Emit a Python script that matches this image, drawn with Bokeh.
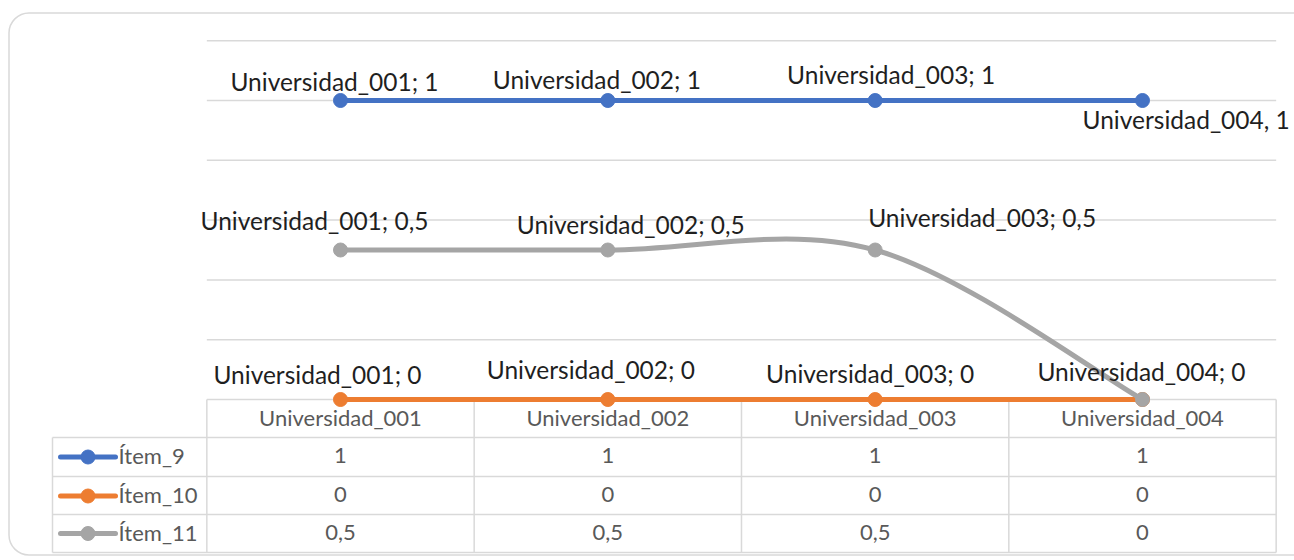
import numpy as np
from bokeh.plotting import figure
from bokeh.models import ColumnDataSource, Range1d
from bokeh.core.properties import value
from bokeh.embed import file_html
from bokeh.resources import INLINE

# ---------------- data ----------------
categories = ["Universidad_001", "Universidad_002", "Universidad_003", "Universidad_004"]
series_names = ["Ítem_9", "Ítem_10", "Ítem_11"]
item_9 = [1, 1, 1, 1]
item_10 = [0, 0, 0, 0]
item_11 = [0.5, 0.5, 0.5, 0]
y_ticks = [0, 0.2, 0.4, 0.6, 0.8, 1.0, 1.2]
# data-label separators and visibility (as shown in the chart)
item_9_sep = ["; ", "; ", "; ", ", "]
item_10_sep = ["; ", "; ", "; ", "; "]
item_11_sep = ["; ", "; ", "; ", "; "]
item_11_show = [True, True, True, False]

# ---------------- styles ----------------
colors = ["#4472C4", "#ED7D31", "#A5A5A5"]
FONT = value("Lato")
GRID = "#D9D9D9"
TXT = "#1F1F1F"
TBL_TXT = "#595959"
LW = 5

# pixel geometry of the frame (page px)
PX_X0, PX_DX = 340.0, 267.33   # px of first category, px per category
PX_Y0, PX_DY = 399.0, 299.0    # px of value 0, px per unit
FIG_W, FIG_H = 1294, 558
T_SHIFT = 8.0                   # baseline correction for text (px, upward)


def X(px):
    return (px - PX_X0) / PX_DX


def Y(py):
    return (PX_Y0 - py) / PX_DY


def TY(py):
    return Y(py - T_SHIFT)


def fmt(v):
    s = ("%g" % v)
    return s.replace(".", ",")


p = figure(width=FIG_W, height=FIG_H,
           x_range=Range1d(X(0), X(FIG_W)), y_range=Range1d(Y(FIG_H), Y(0)),
           output_backend="svg", toolbar_location=None,
           x_axis_type=None, y_axis_type=None, min_border=0,
           outline_line_color=None)
p.background_fill_color = "white"
p.border_fill_color = "white"

n = len(categories)
xs = np.arange(n, dtype=float)
x_lo, x_hi = -0.5, n - 0.5

# ---------------- outer rounded border ----------------
R = 20
bx, by_top, by_bot = 8.5, 12.5, 554.5
p.segment(x0=[X(bx + R), X(bx)], y0=[Y(by_top), Y(by_top + R)],
          x1=[X(1310), X(bx)], y1=[Y(by_top), Y(by_bot - R)],
          line_color=GRID, line_width=1.5)
p.segment(x0=[X(bx + R)], y0=[Y(by_bot)], x1=[X(1310)], y1=[Y(by_bot)],
          line_color=GRID, line_width=1.5)
p.arc(x=[X(bx + R), X(bx + R)], y=[Y(by_top + R), Y(by_bot - R)], radius=R,
      radius_units="screen", start_angle=[np.pi / 2, np.pi],
      end_angle=[np.pi, 1.5 * np.pi], line_color=GRID, line_width=1.5)

# ---------------- gridlines ----------------
p.segment(x0=[x_lo] * len(y_ticks), x1=[x_hi] * len(y_ticks),
          y0=y_ticks, y1=y_ticks, line_color=GRID, line_width=1.5)

# ---------------- data table grid ----------------
row_lines_px = [437, 476, 514, 552]
tbl_left = X(52)
p.segment(x0=[tbl_left] * 4, x1=[x_hi] * 4, y0=[Y(v) for v in row_lines_px],
          y1=[Y(v) for v in row_lines_px], line_color=GRID, line_width=1.5)
vx = [x_lo + k for k in range(n + 1)]
p.segment(x0=vx, x1=vx, y0=[0] * len(vx), y1=[Y(552)] * len(vx),
          line_color=GRID, line_width=1.5)
p.segment(x0=[tbl_left], x1=[tbl_left], y0=[Y(437)], y1=[Y(552)],
          line_color=GRID, line_width=1.5)

# ---------------- series ----------------
series = [item_9, item_10, item_11]


def bezier_source(vals):
    pts = np.column_stack([xs, np.asarray(vals, dtype=float)])
    d = dict(x0=[], y0=[], x1=[], y1=[], cx0=[], cy0=[], cx1=[], cy1=[])
    for i in range(n - 1):
        p0 = pts[max(i - 1, 0)]
        p1 = pts[i]
        p2 = pts[i + 1]
        p3 = pts[min(i + 2, n - 1)]
        c0 = p1 + (p2 - p0) / 6.0
        c1 = p2 - (p3 - p1) / 6.0
        d["x0"].append(p1[0]); d["y0"].append(p1[1])
        d["x1"].append(p2[0]); d["y1"].append(p2[1])
        d["cx0"].append(c0[0]); d["cy0"].append(c0[1])
        d["cx1"].append(c1[0]); d["cy1"].append(c1[1])
    return ColumnDataSource(d)


for vals, col in zip(series, colors):
    p.bezier(x0="x0", y0="y0", x1="x1", y1="y1", cx0="cx0", cy0="cy0",
             cx1="cx1", cy1="cy1", source=bezier_source(vals),
             line_color=col, line_width=LW, line_cap="round")
    p.scatter(x=xs, y=vals, size=14, fill_color=col, line_color=col)

# ---------------- data labels ----------------
# offsets (px) of label centre / baseline from the data point
label_dx = [[-6, -11, 16, -60], [-23, -17, -5, -1], [-26, 23, 107, 0]]
label_dy = [[-11, -13, -18, 27], [-17, -22, -18, -20], [-21.5, -17.5, -24.5, 0]]
label_align = [["center", "center", "center", "left"],
               ["center"] * 4, ["center"] * 4]
seps = [item_9_sep, item_10_sep, item_11_sep]
shows = [[True] * n, [True] * n, item_11_show]

for vals, sep, show, dxs, dys, aligns in zip(series, seps, shows, label_dx, label_dy, label_align):
    for al in ("center", "left"):
        lx, ly, lt = [], [], []
        for i in range(n):
            if not show[i] or aligns[i] != al:
                continue
            lx.append(xs[i] + dxs[i] / PX_DX)
            ly.append(vals[i] - (dys[i] - T_SHIFT) / PX_DY)
            lt.append(categories[i] + sep[i] + fmt(vals[i]))
        if lx:
            p.text(x=lx, y=ly, text=lt, text_font=FONT, text_font_size="24.5px",
                   text_color=TXT, text_align=al, text_baseline="alphabetic")

# ---------------- data table texts ----------------
p.text(x=xs, y=[TY(425)] * n, text=categories, text_font=FONT,
       text_font_size="22px", text_color=TBL_TXT, text_align="center",
       text_baseline="alphabetic")

row_base_px = [463, 502, 540]
row_mid_px = [456.5, 495.5, 533]
for vals, name, col, bpx, mpx in zip(series, series_names, colors, row_base_px, row_mid_px):
    p.text(x=xs, y=[TY(bpx)] * n, text=[fmt(v) for v in vals], text_font=FONT,
           text_font_size="22px", text_color=TBL_TXT, text_align="center",
           text_baseline="alphabetic")
    p.segment(x0=[X(60)], x1=[X(115)], y0=[Y(mpx)], y1=[Y(mpx)],
              line_color=col, line_width=LW, line_cap="round")
    p.scatter(x=[X(87.5)], y=[Y(mpx)], size=14, fill_color=col, line_color=col)
    p.text(x=[X(118)], y=[TY(bpx)], text=[name], text_font=FONT,
           text_font_size="22px", text_color=TBL_TXT, text_align="left",
           text_baseline="alphabetic")

open("out.html", "w").write(file_html(p, INLINE))
